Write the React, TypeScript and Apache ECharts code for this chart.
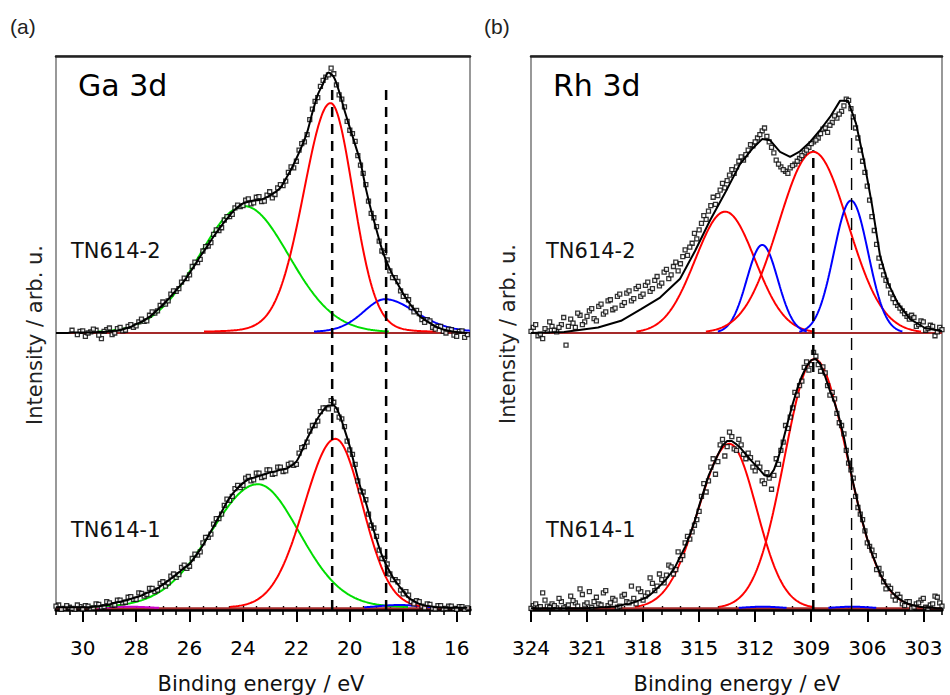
import React, { useEffect, useRef } from "react";
import * as echarts from "echarts";

// ---------------- axis ticks ----------------
const GA_TICKS = [30, 28, 26, 24, 22, 20, 18, 16];
const RH_TICKS = [324, 321, 318, 315, 312, 309, 306, 303];
const GA_RANGE = [15.5, 31];
const RH_RANGE = [302, 324];

// ---------------- Ga 3d ----------------
// fit envelopes on a 0.2 eV grid from 31.0 eV down to 15.6 eV (intensity above each baseline)
const GA_FIT_START = 31.0;
const GA_STEP = -0.2;
const GA2_FIT = [
  0.0, 0.0, 0.0, 0.01, 0.01, 0.01, 0.01, 0.01, 0.02, 0.02,
  0.03, 0.04, 0.05, 0.08, 0.11, 0.16, 0.2, 0.26, 0.33, 0.42,
  0.51, 0.61, 0.72, 0.83, 0.94, 1.08, 1.23, 1.38, 1.52, 1.67,
  1.81, 1.94, 2.06, 2.18, 2.27, 2.34, 2.37, 2.39, 2.4, 2.43,
  2.48, 2.54, 2.62, 2.78, 2.95, 3.15, 3.37, 3.62, 3.98, 4.3,
  4.5, 4.7, 4.62, 4.36, 4.02, 3.71, 3.4, 3.08, 2.61, 2.21,
  1.86, 1.52, 1.26, 1.05, 0.88, 0.71, 0.56, 0.43, 0.31, 0.24,
  0.18, 0.12, 0.08, 0.05, 0.03, 0.02, 0.01, 0.0,
];
const GA1_FIT = [
  0.02, 0.02, 0.02, 0.02, 0.02, 0.02, 0.02, 0.03, 0.04, 0.05,
  0.07, 0.1, 0.12, 0.14, 0.17, 0.2, 0.23, 0.28, 0.31, 0.36,
  0.43, 0.5, 0.57, 0.65, 0.73, 0.8, 0.93, 1.06, 1.22, 1.39,
  1.57, 1.74, 1.92, 2.06, 2.17, 2.26, 2.33, 2.36, 2.39, 2.42,
  2.45, 2.47, 2.5, 2.52, 2.57, 2.65, 2.84, 3.06, 3.25, 3.43,
  3.57, 3.66, 3.66, 3.51, 3.23, 2.92, 2.54, 2.18, 1.91, 1.56,
  1.25, 0.96, 0.75, 0.57, 0.43, 0.31, 0.19, 0.13, 0.08, 0.05,
  0.04, 0.02, 0.02, 0.01, 0.01, 0.01, 0.01, 0.01,
];
// measured points (two interleaved 0.2 eV sweeps per spectrum)
const GA2_DATA_START = 30.1;
const GA2_DATA = [
  0.03, -0.06, 0.02, 0.05, -0.1, 0.06, -0.03, 0.08, 0.04, 0.12,
  0.1, 0.2, 0.21, 0.32, 0.36, 0.5, 0.52, 0.7, 0.75, 0.92,
  0.98, 1.2, 1.27, 1.48, 1.57, 1.78, 1.85, 2.04, 2.1, 2.26,
  2.28, 2.4, 2.33, 2.45, 2.37, 2.49, 2.44, 2.62, 2.66, 2.9,
  2.98, 3.3, 3.45, 3.85, 4.18, 4.45, 4.62, 4.78, 4.48, 4.22,
  3.82, 3.6, 3.2, 2.88, 2.38, 2.08, 1.66, 1.45, 1.12, 1.0,
  0.76, 0.66, 0.46, 0.41, 0.24, 0.24, 0.1, 0.12, 0.03, 0.07,
  -0.04, 0.03, -0.08,
];
const GA2_DATA_B_START = 30.4;
const GA2_DATA_B = [
  0.05, -0.03, 0.04, 0.0, 0.07, -0.04, 0.03, 0.09, 0.0, 0.1,
  0.05, 0.15, 0.13, 0.25, 0.22, 0.38, 0.4, 0.56, 0.58, 0.76,
  0.8, 0.99, 1.05, 1.28, 1.33, 1.56, 1.63, 1.86, 1.9, 2.1,
  2.14, 2.31, 2.3, 2.42, 2.35, 2.46, 2.38, 2.55, 2.5, 2.68,
  2.74, 3.0, 3.1, 3.42, 3.58, 4.04, 4.25, 4.56, 4.66, 4.68,
  4.3, 4.08, 3.66, 3.46, 3.03, 2.68, 2.16, 1.92, 1.48, 1.32,
  1.0, 0.93, 0.66, 0.6, 0.38, 0.35, 0.19, 0.22, 0.07, 0.12,
  0.0, 0.06, -0.06, 0.04, -0.03,
];
const GA1_DATA_START = 30.9;
const GA1_DATA = [
  0.06, 0.0, 0.02, -0.02, 0.03, 0.05, 0.0, 0.08, 0.02, 0.12,
  0.06, 0.15, 0.1, 0.2, 0.16, 0.28, 0.22, 0.36, 0.3, 0.45,
  0.4, 0.58, 0.56, 0.74, 0.72, 0.9, 0.96, 1.18, 1.28, 1.52,
  1.62, 1.86, 1.95, 2.16, 2.18, 2.35, 2.3, 2.44, 2.36, 2.5,
  2.42, 2.55, 2.47, 2.6, 2.58, 2.8, 2.92, 3.2, 3.3, 3.55,
  3.62, 3.75, 3.58, 3.42, 3.02, 2.78, 2.3, 2.1, 1.7, 1.45,
  1.05, 0.9, 0.62, 0.52, 0.33, 0.3, 0.12, 0.14, 0.04, 0.08,
  0.0, 0.05, -0.01, 0.04, 0.0, 0.03, -0.02,
];
const GA1_DATA_B_START = 31.0;
const GA1_DATA_B = [
  0.04, -0.02, 0.05, 0.0, 0.06, -0.01, 0.04, 0.01, 0.07, 0.03,
  0.1, 0.06, 0.15, 0.11, 0.21, 0.16, 0.27, 0.25, 0.36, 0.33,
  0.48, 0.46, 0.62, 0.61, 0.78, 0.76, 0.98, 1.02, 1.28, 1.34,
  1.62, 1.7, 1.97, 2.02, 2.22, 2.22, 2.38, 2.32, 2.44, 2.38,
  2.5, 2.43, 2.55, 2.48, 2.62, 2.6, 2.9, 3.0, 3.3, 3.38,
  3.62, 3.6, 3.72, 3.45, 3.28, 2.86, 2.6, 2.12, 1.96, 1.5,
  1.3, 0.9, 0.8, 0.52, 0.48, 0.26, 0.24, 0.08, 0.12, 0.01,
  0.07, -0.01, 0.05, 0.0, 0.04, -0.02, 0.03, 0.01,
];
// fitted components: centre, height, half widths (high-BE side, low-BE side), Lorentz share
const GA2_PEAKS = [
  { c: 23.95, h: 2.29, wl: 2.0, wr: 1.98, eta: 0.05, color: "#00dd00" },
  { c: 18.68, h: 0.61, wl: 1.0, wr: 1.4, eta: 0.3, color: "#0000ff" },
  { c: 20.72, h: 4.15, wl: 1.2, wr: 1.0, eta: 0.1, color: "#ff0000" },
];
const GA1_PEAKS = [
  { c: 28.3, h: 0.03, wl: 0.9, wr: 0.9, eta: 0, color: "#cc00cc" },
  { c: 23.45, h: 2.24, wl: 2.1, wr: 1.86, eta: 0.1, color: "#00dd00" },
  { c: 18.15, h: 0.06, wl: 1.0, wr: 1.0, eta: 0, color: "#0000ff" },
  { c: 20.54, h: 3.06, wl: 1.38, wr: 1.2, eta: 0.05, color: "#ff0000" },
];
const GA_DASH = [20.66, 18.64];

// ---------------- Rh 3d ----------------
const RH2_FIT_E = [
  324.0, 322.23, 320.41, 319.18, 318.11, 317.09, 316.02, 315.22, 314.42, 313.61,
  312.81, 312.17, 311.63, 311.21, 310.67, 310.13, 309.6, 309.06, 308.53, 307.99,
  307.46, 307.03, 306.6, 306.17, 305.74, 305.32, 304.89, 304.35, 303.71, 302.91, 302.0,
];
const RH2_FIT = [
  0.0, 0.02, 0.1, 0.22, 0.43, 0.64, 0.98, 1.48, 2.03, 2.53,
  3.05, 3.32, 3.5, 3.48, 3.27, 3.18, 3.28, 3.45, 3.66, 3.9,
  4.19, 4.19, 3.78, 3.1, 2.3, 1.4, 0.9, 0.53, 0.25, 0.09, 0.03,
];
const RH_START = 324.0;
const RH_STEP = -0.25;
const RH1_FIT = [
  0, 0, 0, 0, 0, 0, 0, 0, 0, 0,
  0.0, 0.0, 0.0, 0.01, 0.01, 0.02, 0.02, 0.03, 0.03, 0.05,
  0.07, 0.08, 0.11, 0.14, 0.17, 0.21, 0.28, 0.36, 0.44, 0.53,
  0.64, 0.77, 0.94, 1.11, 1.32, 1.56, 1.85, 2.12, 2.39, 2.58,
  2.77, 2.94, 3.02, 3.02, 2.96, 2.88, 2.78, 2.68, 2.59, 2.5,
  2.4, 2.38, 2.5, 2.73, 3.04, 3.37, 3.68, 3.96, 4.19, 4.37,
  4.48, 4.5, 4.4, 4.18, 3.93, 3.71, 3.43, 3.09, 2.66, 2.26,
  1.89, 1.56, 1.25, 0.99, 0.77, 0.58, 0.43, 0.32, 0.23, 0.16,
  0.11, 0.07, 0.05, 0.03, 0.02, 0.01, 0.01, 0.0, 0.0,
];
const RH_DATA_START = 323.875;
const RH2_DATA = [
  0.1, -0.05, -0.1, 0.04, 0.12, 0.02, 0.15, -0.22, 0.25, 0.1,
  0.32, 0.2, 0.4, 0.26, 0.48, 0.34, 0.58, 0.42, 0.66, 0.5,
  0.72, 0.58, 0.8, 0.66, 0.86, 0.75, 0.95, 0.85, 1.1, 0.98,
  1.2, 1.12, 1.38, 1.4, 1.62, 1.7, 1.98, 2.05, 2.3, 2.32,
  2.58, 2.62, 2.85, 2.88, 3.1, 3.12, 3.3, 3.38, 3.52, 3.65,
  3.55, 3.35, 3.12, 3.0, 2.92, 2.98, 3.05, 3.15, 3.25, 3.35,
  3.45, 3.52, 3.68, 3.62, 3.8, 3.88, 4.0, 4.22, 4.05, 3.7,
  3.3, 2.9, 2.4, 1.85, 1.35, 1.05, 0.85, 0.62, 0.5, 0.4,
  0.3, 0.32, 0.12, 0.22, 0.05, 0.14, -0.05, 0.1,
];
const RH2_DATA_B = [
  0.03, 0.15, -0.02, 0.08, 0.2, 0.05, 0.1, 0.28, 0.12, 0.18,
  0.36, 0.15, 0.3, 0.44, 0.22, 0.52, 0.38, 0.6, 0.45, 0.7,
  0.55, 0.76, 0.62, 0.84, 0.7, 0.92, 0.8, 1.02, 0.9, 1.15,
  1.05, 1.28, 1.25, 1.5, 1.55, 1.8, 1.86, 2.12, 2.2, 2.45,
  2.48, 2.7, 2.75, 2.95, 3.0, 3.18, 3.22, 3.4, 3.45, 3.58,
  3.7, 3.45, 3.25, 3.05, 2.95, 2.88, 3.02, 3.1, 3.2, 3.3,
  3.42, 3.48, 3.6, 3.7, 3.75, 3.92, 3.95, 4.1, 4.2, 3.9,
  3.52, 3.1, 2.65, 2.1, 1.6, 1.2, 0.95, 0.72, 0.55, 0.45,
  0.35, 0.25, 0.28, 0.15, 0.2, 0.08, 0.12, 0.02, 0.06,
];
const RH1_DATA = [
  0.05, 0.02, 0.28, 0.04, 0.08, 0.01, 0.12, 0.03, 0.22, 0.1,
  0.35, 0.06, 0.3, 0.12, 0.08, 0.28, 0.05, 0.18, 0.02, 0.22,
  0.12, 0.4, 0.08, 0.3, 0.22, 0.55, 0.32, 0.62, 0.46, 0.78,
  0.62, 1.02, 0.95, 1.3, 1.38, 1.6, 2.02, 2.1, 2.55, 2.42,
  2.95, 2.75, 3.18, 2.88, 3.05, 2.78, 2.8, 2.55, 2.62, 2.3,
  2.45, 2.15, 2.7, 2.85, 3.3, 3.45, 3.9, 4.02, 4.35, 4.3,
  4.62, 4.4, 4.36, 4.02, 3.9, 3.52, 3.3, 2.85, 2.5, 2.02,
  1.7, 1.4, 1.12, 0.95, 0.72, 0.48, 0.4, 0.22, 0.25, 0.08,
  0.12, 0.0, 0.08, 0.15, 0.02, 0.06, 0.22, 0.1,
];
const RH1_DATA_B = [
  0.0, 0.08, 0.03, 0.15, 0.02, 0.05, 0.18, 0.01, 0.06, 0.14,
  0.04, 0.25, 0.1, 0.02, 0.2, 0.06, 0.32, 0.1, 0.15, 0.04,
  0.25, 0.1, 0.18, 0.35, 0.15, 0.28, 0.45, 0.4, 0.52, 0.6,
  0.75, 0.7, 0.88, 1.18, 1.25, 1.5, 1.75, 2.25, 2.3, 2.7,
  2.65, 3.05, 2.92, 3.1, 2.85, 2.95, 2.7, 2.72, 2.48, 2.55,
  2.25, 2.35, 2.4, 2.6, 3.0, 3.25, 3.62, 3.85, 4.1, 4.45,
  4.4, 4.55, 4.28, 4.25, 3.85, 3.78, 3.35, 3.15, 2.62, 2.35,
  1.82, 1.6, 1.18, 1.05, 0.7, 0.62, 0.35, 0.36, 0.15, 0.2,
  0.05, 0.12, 0.02, 0.1, 0.18, 0.0, 0.08, 0.2, 0.04,
];
const RH2_PEAKS = [
  { c: 313.61, h: 2.19, wl: 1.88, wr: 1.88, eta: 0, color: "#ff0000" },
  { c: 311.62, h: 1.59, wl: 0.98, wr: 0.98, eta: 0, color: "#0000ff" },
  { c: 308.89, h: 3.27, wl: 2.18, wr: 2.18, eta: 0, color: "#ff0000" },
  { c: 306.87, h: 2.39, wl: 1.08, wr: 1.08, eta: 0, color: "#0000ff" },
];
const RH1_PEAKS = [
  { c: 311.6, h: 0.03, wl: 1.0, wr: 1.0, eta: 0, color: "#0000ff" },
  { c: 306.8, h: 0.03, wl: 1.0, wr: 1.0, eta: 0, color: "#0000ff" },
  { c: 313.38, h: 2.97, wl: 1.94, wr: 1.71, eta: 0, color: "#ff0000" },
  { c: 308.83, h: 4.5, wl: 1.88, wr: 2.08, eta: 0, color: "#ff0000" },
];
const RH_DASH = [308.89, 306.84];

// vertical offsets of the two stacked spectra
const OFFSET_TOP = 5.0;
const OFFSET_BOTTOM = 0.03;

const FONT = '"DejaVu Sans", Verdana, sans-serif';

type Peak = { c: number; h: number; wl: number; wr: number; eta: number; color: string };

function peakValue(e: number, p: Peak) {
  const w = e > p.c ? p.wl : p.wr;
  const u = (e - p.c) / w;
  return p.h * ((1 - p.eta) * Math.exp(-Math.LN2 * u * u) + p.eta / (1 + u * u));
}

function peakCurve(p: Peak, lo: number, hi: number, off: number) {
  const thr = Math.min(0.025, 0.3 * p.h);
  const pts: number[][] = [];
  for (let i = 0; ; i++) {
    const e = lo + i * 0.04;
    if (e > hi + 1e-9) break;
    const v = peakValue(e, p);
    if (v >= thr) pts.push([e, off + v]);
  }
  return pts;
}

function onGrid(start: number, step: number, vals: number[], off: number) {
  return vals.map((v, i) => [start + i * step, off + v]);
}
function pairs(es: number[], vals: number[], off: number) {
  return vals.map((v, i) => [es[i], off + v]);
}

function xAxesFor(gridIndex: number, range: number[], ticks: number[], minorStep: number) {
  const minors: number[] = [];
  for (let v = range[0]; v <= range[1] + 1e-9; v += minorStep) minors.push(+v.toFixed(3));
  const base = { type: "value", gridIndex, min: range[0], max: range[1], inverse: true, splitLine: { show: false } };
  return [
    {
      ...base,
      position: "bottom",
      axisLine: { show: true, onZero: false, lineStyle: { color: "#000", width: 3.5 } },
      axisTick: { show: true, inside: false, length: 12, lineStyle: { color: "#000", width: 2 }, customValues: ticks },
      axisLabel: { show: true, customValues: ticks, margin: 28, fontSize: 20, fontFamily: FONT, color: "#000" },
    },
    {
      ...base,
      position: "bottom",
      axisLine: { show: false, onZero: false },
      axisTick: { show: true, inside: false, length: 5, lineStyle: { color: "#000", width: 1.6 }, customValues: minors },
      axisLabel: { show: false },
    },
    {
      ...base,
      position: "bottom",
      axisLine: { show: false, onZero: false },
      axisTick: { show: true, inside: true, length: 4, lineStyle: { color: "#000", width: 1.4 }, customValues: minors },
      axisLabel: { show: false },
    },
    {
      ...base,
      position: "top",
      axisLine: { show: true, onZero: false, lineStyle: { color: "#222", width: 2.5 } },
      axisTick: { show: false },
      axisLabel: { show: false },
    },
  ];
}

function lineSeries(data: number[][], color: string, width: number, xi: number, yi: number, z: number, extra: any = {}) {
  return {
    type: "line",
    data,
    xAxisIndex: xi,
    yAxisIndex: yi,
    symbol: "none",
    showSymbol: false,
    silent: true,
    z,
    lineStyle: { color, width, ...(extra.lineStyle || {}) },
    smooth: extra.smooth || false,
  };
}

function scatterSeries(data: number[][], xi: number, yi: number) {
  return {
    type: "scatter",
    data,
    xAxisIndex: xi,
    yAxisIndex: yi,
    symbol: "rect",
    symbolSize: 4,
    silent: true,
    z: 4,
    itemStyle: { color: "#fff", borderColor: "#000", borderWidth: 1.3 },
  };
}

function panelSeries(
  xi: number,
  yi: number,
  range: number[],
  topFit: number[][],
  botFit: number[][],
  topData: number[][][],
  botData: number[][][],
  topPeaks: Peak[],
  botPeaks: Peak[],
  dashes: { e: number; top: number; width: number; dash: number[] }[],
  smooth: number | boolean
) {
  const s: any[] = [];
  s.push(lineSeries([[range[0], OFFSET_TOP], [range[1], OFFSET_TOP]], "#a52a2a", 2, xi, yi, 2));
  s.push(lineSeries([[range[0], OFFSET_BOTTOM], [range[1], OFFSET_BOTTOM]], "#a52a2a", 2, xi, yi, 2));
  topPeaks.forEach((p) => s.push(lineSeries(peakCurve(p, range[0], range[1], OFFSET_TOP), p.color, 2, xi, yi, 3)));
  botPeaks.forEach((p) => s.push(lineSeries(peakCurve(p, range[0], range[1], OFFSET_BOTTOM), p.color, 2, xi, yi, 3)));
  topData.forEach((d) => s.push(scatterSeries(d, xi, yi)));
  botData.forEach((d) => s.push(scatterSeries(d, xi, yi)));
  s.push(lineSeries(topFit, "#000", 2, xi, yi, 5, { smooth }));
  s.push(lineSeries(botFit, "#000", 2, xi, yi, 5, { smooth }));
  dashes.forEach((d) =>
    s.push(lineSeries([[d.e, 0], [d.e, d.top]], "#000", d.width, xi, yi, 6, { lineStyle: { type: d.dash } }))
  );
  return s;
}

function txt(x: number, y: number, text: string, size: number, opts: any = {}) {
  const align = opts.align || "left";
  return {
    type: "text",
    x,
    y,
    rotation: opts.rotation || 0,
    silent: true,
    z: 10,
    style: {
      text,
      font: `${size}px ${opts.family || FONT}`,
      fill: opts.fill || "#111",
      align,
      verticalAlign: "middle",
      textAlign: align,
      textVerticalAlign: "middle",
    },
  };
}

function buildOption() {
  const gaSeries = panelSeries(
    0,
    0,
    GA_RANGE,
    onGrid(GA_FIT_START, GA_STEP, GA2_FIT, OFFSET_TOP),
    onGrid(GA_FIT_START, GA_STEP, GA1_FIT, OFFSET_BOTTOM),
    [onGrid(GA2_DATA_START, GA_STEP, GA2_DATA, OFFSET_TOP), onGrid(GA2_DATA_B_START, GA_STEP, GA2_DATA_B, OFFSET_TOP)],
    [onGrid(GA1_DATA_START, GA_STEP, GA1_DATA, OFFSET_BOTTOM), onGrid(GA1_DATA_B_START, GA_STEP, GA1_DATA_B, OFFSET_BOTTOM)],
    GA2_PEAKS,
    GA1_PEAKS,
    [
      { e: GA_DASH[0], top: 9.5, width: 2.5, dash: [10, 7] },
      { e: GA_DASH[1], top: 9.5, width: 2.5, dash: [10, 7] },
    ],
    0.3
  );
  const rhSeries = panelSeries(
    4,
    1,
    RH_RANGE,
    pairs(RH2_FIT_E, RH2_FIT, OFFSET_TOP),
    onGrid(RH_START, RH_STEP, RH1_FIT, OFFSET_BOTTOM),
    [onGrid(RH_DATA_START, RH_STEP, RH2_DATA, OFFSET_TOP), onGrid(RH_START, RH_STEP, RH2_DATA_B, OFFSET_TOP)],
    [onGrid(RH_DATA_START, RH_STEP, RH1_DATA, OFFSET_BOTTOM), onGrid(RH_START, RH_STEP, RH1_DATA_B, OFFSET_BOTTOM)],
    RH2_PEAKS,
    RH1_PEAKS,
    [
      { e: RH_DASH[0], top: 8.3, width: 2.5, dash: [10, 7] },
      { e: RH_DASH[1], top: 8.9, width: 1.4, dash: [12, 8] },
    ],
    false
  );

  return {
    animation: false,
    backgroundColor: "#fff",
    grid: [
      { left: 56, top: 56, width: 414, height: 554, show: true, borderColor: "#555", borderWidth: 1.2, backgroundColor: "transparent" },
      { left: 531, top: 56, width: 411, height: 554, show: true, borderColor: "#555", borderWidth: 1.2, backgroundColor: "transparent" },
    ],
    xAxis: [...xAxesFor(0, GA_RANGE, GA_TICKS, 0.5), ...xAxesFor(1, RH_RANGE, RH_TICKS, 1)],
    yAxis: [
      { type: "value", gridIndex: 0, min: 0, max: 10, show: false },
      { type: "value", gridIndex: 1, min: 0, max: 10, show: false },
    ],
    series: [...gaSeries, ...rhSeries],
    graphic: [
      txt(10, 26, "(a)", 21, { family: '"Liberation Sans", Arial, sans-serif', fill: "#222" }),
      txt(484, 26, "(b)", 21, { family: '"Liberation Sans", Arial, sans-serif', fill: "#222" }),
      txt(78, 85, "Ga 3d", 30, { fill: "#000" }),
      txt(553, 85, "Rh 3d", 30, { fill: "#000" }),
      txt(71, 251, "TN614-2", 21),
      txt(71, 530, "TN614-1", 21),
      txt(546, 251, "TN614-2", 21),
      txt(546, 530, "TN614-1", 21),
      txt(35, 335, "Intensity / arb. u.", 21, { align: "center", rotation: Math.PI / 2, fill: "#222" }),
      txt(508, 334, "Intensity / arb. u.", 21, { align: "center", rotation: Math.PI / 2, fill: "#222" }),
      txt(261, 684, "Binding energy / eV", 21, { align: "center", fill: "#111" }),
      txt(737, 684, "Binding energy / eV", 21, { align: "center", fill: "#111" }),
    ],
  };
}

export default function App() {
  const ref = useRef<HTMLDivElement>(null);
  useEffect(() => {
    document.body.style.margin = "0";
    const chart = echarts.init(ref.current!, null, { renderer: "svg", width: 950, height: 695 });
    chart.setOption(buildOption() as any);
    return () => chart.dispose();
  }, []);
  return (
    <div
      ref={ref}
      style={{ width: 950, height: 695, position: "absolute", left: 0, top: 0, background: "#fff" }}
    />
  );
}
